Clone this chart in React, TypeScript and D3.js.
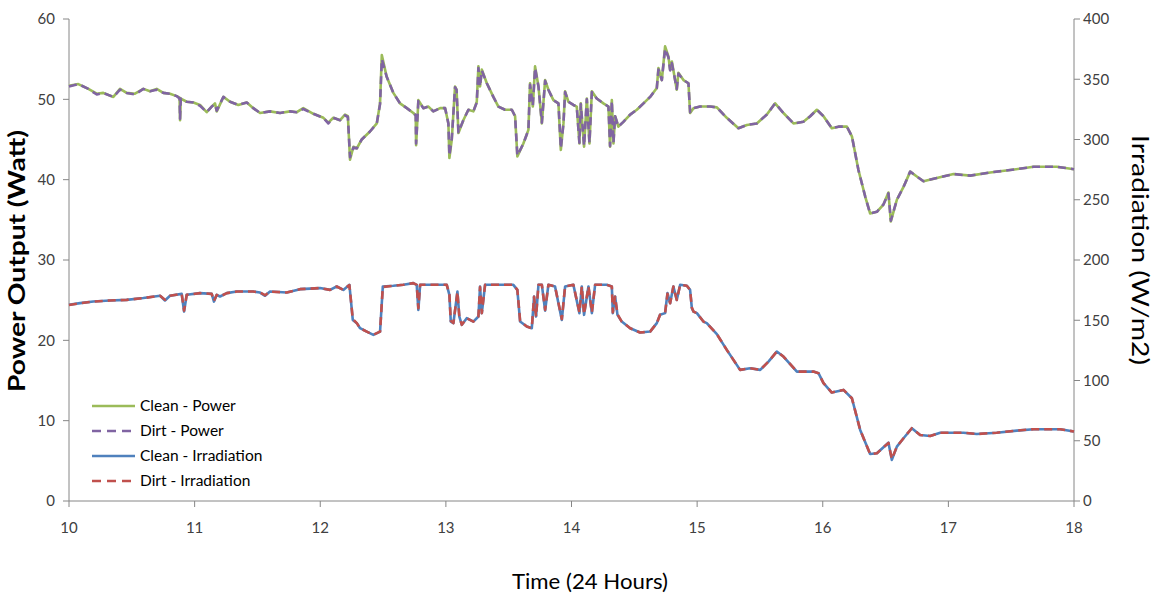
import React from "react";
import * as d3 from "d3";

const powerTimes = [
  10.000, 10.074, 10.154, 10.221, 10.273, 10.353, 10.406, 10.459, 10.525, 10.592,
  10.645, 10.698, 10.751, 10.804, 10.857, 10.880, 10.884, 10.890, 10.937, 10.990,
  11.043, 11.096, 11.136, 11.162, 11.176, 11.229, 11.282, 11.348, 11.415, 11.467,
  11.521, 11.600, 11.680, 11.760, 11.813, 11.865, 11.945, 12.025, 12.064, 12.104,
  12.158, 12.197, 12.220, 12.237, 12.264, 12.291, 12.330, 12.396, 12.450, 12.476,
  12.490, 12.529, 12.582, 12.635, 12.689, 12.741, 12.760, 12.763, 12.781, 12.821,
  12.861, 12.900, 12.954, 12.994, 13.020, 13.028, 13.047, 13.073, 13.085, 13.100,
  13.139, 13.179, 13.219, 13.246, 13.259, 13.272, 13.286, 13.326, 13.378, 13.418,
  13.471, 13.525, 13.551, 13.569, 13.617, 13.657, 13.670, 13.692, 13.710, 13.737,
  13.764, 13.790, 13.816, 13.856, 13.896, 13.915, 13.936, 13.949, 13.975, 14.015,
  14.042, 14.063, 14.074, 14.100, 14.122, 14.143, 14.162, 14.201, 14.254, 14.294,
  14.307, 14.321, 14.334, 14.347, 14.373, 14.413, 14.467, 14.520, 14.573, 14.626,
  14.679, 14.692, 14.719, 14.745, 14.772, 14.785, 14.799, 14.838, 14.851, 14.891,
  14.931, 14.944, 14.971, 15.024, 15.104, 15.157, 15.236, 15.329, 15.396, 15.475,
  15.555, 15.621, 15.687, 15.767, 15.846, 15.900, 15.953, 16.006, 16.072, 16.125,
  16.192, 16.232, 16.284, 16.338, 16.377, 16.431, 16.483, 16.523, 16.542, 16.590,
  16.643, 16.696, 16.749, 16.802, 16.908, 17.041, 17.174, 17.333, 17.492, 17.678,
  17.864, 18.000,
];

const cleanPower = [
  51.7, 51.9, 51.3, 50.7, 50.8, 50.3, 51.3, 50.8, 50.7, 51.3,
  51.0, 51.3, 50.8, 50.7, 50.4, 50.2, 47.4, 50.1, 49.7, 49.6,
  49.3, 48.4, 49.1, 49.5, 48.5, 50.3, 49.7, 49.3, 49.6, 48.9,
  48.3, 48.5, 48.3, 48.5, 48.4, 48.9, 48.2, 47.7, 47.1, 47.7,
  47.4, 48.1, 47.9, 42.5, 44.1, 43.9, 45.0, 46.0, 47.0, 49.5,
  55.5, 52.8, 50.8, 49.5, 48.9, 48.3, 48.0, 44.3, 49.9, 48.9,
  49.1, 48.5, 48.9, 48.9, 47.0, 42.7, 45.0, 51.6, 51.2, 45.8,
  47.4, 48.7, 48.5, 49.7, 54.1, 51.6, 53.7, 52.0, 50.3, 49.1,
  48.7, 48.7, 47.9, 42.9, 44.5, 46.2, 52.0, 49.1, 54.1, 51.6,
  47.0, 52.4, 51.2, 49.9, 49.5, 43.7, 47.0, 51.0, 49.7, 49.3,
  49.1, 44.5, 49.5, 44.1, 50.1, 44.5, 51.0, 50.1, 49.5, 49.1,
  44.1, 49.9, 44.5, 47.9, 46.6, 47.2, 48.1, 48.7, 49.5, 50.3,
  51.4, 53.9, 52.4, 56.6, 55.3, 53.7, 54.7, 51.2, 53.3, 52.4,
  52.0, 48.3, 48.9, 49.1, 49.1, 49.0, 47.7, 46.4, 46.8, 47.0,
  48.1, 49.5, 48.3, 47.0, 47.2, 47.9, 48.7, 47.9, 46.4, 46.6,
  46.6, 45.4, 41.2, 37.9, 35.8, 36.0, 36.9, 38.4, 34.8, 37.5,
  39.1, 41.0, 40.4, 39.8, 40.2, 40.7, 40.5, 40.9, 41.2, 41.6,
  41.6, 41.3,
];

const dirtPower = [
  51.6, 51.9, 51.3, 50.6, 50.8, 50.3, 51.2, 50.8, 50.6, 51.3,
  51.0, 51.2, 50.8, 50.7, 50.4, 50.1, 47.6, 50.1, 49.7, 49.6,
  49.2, 48.4, 49.1, 49.4, 48.6, 50.3, 49.7, 49.3, 49.6, 48.9,
  48.3, 48.5, 48.3, 48.5, 48.4, 48.8, 48.2, 47.7, 47.0, 47.7,
  47.4, 48.0, 47.8, 42.8, 44.0, 43.9, 45.0, 46.0, 47.0, 49.4,
  55.0, 52.8, 50.8, 49.5, 48.9, 48.3, 48.0, 44.5, 49.8, 48.9,
  49.1, 48.5, 48.9, 48.9, 47.0, 43.0, 45.1, 51.5, 51.2, 45.9,
  47.4, 48.7, 48.5, 49.6, 53.9, 51.6, 53.6, 52.0, 50.3, 49.1,
  48.7, 48.7, 47.9, 43.0, 44.5, 46.2, 51.8, 49.2, 53.9, 51.6,
  47.1, 52.3, 51.2, 49.9, 49.5, 43.9, 47.0, 50.9, 49.7, 49.3,
  49.1, 44.6, 49.4, 44.2, 50.0, 44.6, 50.9, 50.1, 49.5, 49.1,
  44.2, 49.8, 44.6, 47.9, 46.6, 47.2, 48.1, 48.7, 49.5, 50.3,
  51.4, 53.7, 52.4, 56.3, 55.2, 53.6, 54.5, 51.3, 53.2, 52.4,
  52.0, 48.4, 48.9, 49.1, 49.1, 49.0, 47.7, 46.4, 46.8, 47.0,
  48.1, 49.5, 48.3, 47.0, 47.2, 47.9, 48.7, 47.9, 46.4, 46.6,
  46.6, 45.4, 41.2, 37.9, 35.8, 36.0, 36.9, 38.3, 34.9, 37.5,
  39.1, 41.0, 40.4, 39.8, 40.2, 40.7, 40.5, 40.9, 41.2, 41.6,
  41.6, 41.3,
];

const irrTimes = [
  10.000, 10.088, 10.194, 10.326, 10.459, 10.592, 10.725, 10.764, 10.804, 10.897,
  10.916, 10.937, 11.043, 11.136, 11.154, 11.176, 11.202, 11.256, 11.335, 11.467,
  11.521, 11.561, 11.600, 11.733, 11.839, 11.998, 12.078, 12.131, 12.184, 12.232,
  12.259, 12.291, 12.317, 12.370, 12.423, 12.476, 12.498, 12.582, 12.662, 12.741,
  12.768, 12.781, 12.795, 12.900, 13.007, 13.028, 13.039, 13.060, 13.092, 13.107,
  13.127, 13.166, 13.219, 13.259, 13.272, 13.286, 13.312, 13.405, 13.537, 13.569,
  13.591, 13.644, 13.684, 13.702, 13.718, 13.737, 13.764, 13.790, 13.816, 13.869,
  13.923, 13.949, 14.015, 14.063, 14.082, 14.100, 14.135, 14.162, 14.188, 14.281,
  14.321, 14.329, 14.347, 14.366, 14.400, 14.467, 14.546, 14.626, 14.679, 14.705,
  14.745, 14.764, 14.785, 14.811, 14.838, 14.865, 14.918, 14.944, 14.958, 14.971,
  14.998, 15.050, 15.077, 15.157, 15.236, 15.342, 15.422, 15.502, 15.568, 15.634,
  15.687, 15.794, 15.926, 15.966, 16.006, 16.072, 16.165, 16.232, 16.298, 16.377,
  16.431, 16.523, 16.550, 16.590, 16.643, 16.709, 16.775, 16.855, 16.935, 17.120,
  17.226, 17.385, 17.545, 17.678, 17.890, 18.000,
];

const cleanIrr = [
  162.8, 164.2, 165.5, 166.4, 166.9, 168.4, 170.3, 166.4, 170.3, 171.9,
  157.2, 171.1, 172.5, 171.9, 165.5, 171.1, 169.7, 172.5, 173.8, 173.8,
  173.0, 170.3, 173.8, 173.0, 175.8, 176.7, 175.2, 178.0, 175.2, 179.4,
  150.3, 147.6, 143.4, 140.6, 137.9, 140.6, 178.0, 178.6, 179.4, 180.8,
  179.4, 158.6, 179.4, 179.4, 179.4, 171.1, 148.9, 147.6, 173.8, 153.1,
  146.2, 151.7, 148.9, 153.1, 178.0, 155.9, 179.4, 179.4, 179.4, 175.2,
  148.9, 144.8, 143.4, 169.7, 153.1, 179.4, 179.4, 158.0, 179.4, 178.0,
  150.3, 178.0, 179.4, 155.9, 178.0, 154.5, 178.0, 155.9, 179.4, 179.4,
  178.0, 155.9, 169.7, 154.5, 148.9, 143.4, 139.8, 140.6, 147.6, 154.5,
  155.9, 172.5, 164.2, 178.0, 166.9, 179.4, 178.6, 175.2, 160.0, 157.2,
  155.9, 148.9, 147.6, 138.5, 125.4, 108.8, 110.2, 108.8, 115.7, 124.0,
  119.9, 107.4, 107.4, 106.1, 97.8, 90.0, 92.2, 85.3, 59.0, 39.0,
  39.6, 48.4, 34.1, 45.1, 52.1, 60.4, 54.8, 54.0, 56.7, 56.7,
  55.6, 56.7, 58.4, 59.6, 59.6, 57.6,
];

const dirtIrr = [
  162.6, 164.2, 165.5, 166.4, 166.9, 168.4, 170.3, 167.0, 170.3, 171.9,
  158.0, 171.1, 172.5, 171.9, 166.0, 171.1, 169.7, 172.5, 173.8, 173.8,
  173.0, 170.8, 173.8, 173.0, 175.8, 176.7, 175.2, 178.0, 175.2, 179.2,
  151.0, 147.6, 143.4, 140.6, 137.9, 140.6, 177.6, 178.6, 179.4, 180.8,
  179.4, 160.0, 179.4, 179.4, 179.4, 171.5, 149.5, 147.6, 173.5, 153.1,
  146.2, 151.7, 148.9, 153.1, 177.6, 155.9, 179.4, 179.4, 179.4, 175.2,
  149.5, 144.8, 143.4, 169.4, 153.1, 179.4, 179.4, 158.6, 179.4, 178.0,
  151.0, 178.0, 179.4, 156.5, 178.0, 155.0, 178.0, 156.5, 179.4, 179.4,
  178.0, 156.5, 169.4, 155.0, 148.9, 143.4, 139.8, 140.6, 147.6, 154.5,
  155.9, 172.0, 164.2, 178.0, 166.9, 179.4, 178.6, 175.2, 160.5, 157.2,
  155.9, 148.9, 147.6, 138.5, 125.4, 108.8, 110.2, 108.8, 115.7, 124.0,
  119.9, 107.4, 107.4, 106.1, 97.8, 90.0, 92.2, 85.3, 59.0, 39.0,
  39.6, 48.2, 34.8, 45.1, 52.1, 60.4, 54.8, 54.0, 56.7, 56.7,
  55.6, 56.7, 58.4, 59.6, 59.6, 57.6,
];

const xTicks = [10, 11, 12, 13, 14, 15, 16, 17, 18];
const leftTicks = [0, 10, 20, 30, 40, 50, 60];
const rightTicks = [0, 50, 100, 150, 200, 250, 300, 350, 400];

const seriesNames = ["Clean - Power", "Dirt - Power", "Clean - Irradiation", "Dirt - Irradiation"];
const seriesColors = ["#9BBB59", "#8064A2", "#4F81BD", "#C0504D"];
const seriesDashed = [false, true, false, true];

const FONT = "Lato, 'Open Sans', sans-serif";
const AXIS = "#868686";
const TEXT = "#404040";

export default function App() {
  const L = 69, R = 1074, T = 19, B = 501;
  const x = d3.scaleLinear().domain([10, 18]).range([L, R]);
  const yL = d3.scaleLinear().domain([0, 60]).range([B, T]);
  const yR = d3.scaleLinear().domain([0, 400]).range([B, T]);

  const mk = (times: number[], vals: number[], y: d3.ScaleLinear<number, number>) =>
    d3.line<number>().x((_, i) => x(times[i])).y((v) => y(v))(vals) || "";

  const paths = [
    mk(powerTimes, cleanPower, yL),
    mk(powerTimes, dirtPower, yL),
    mk(irrTimes, cleanIrr, yR),
    mk(irrTimes, dirtIrr, yR),
  ];

  return (
    <svg width={1156} height={595} style={{ position: "absolute", left: 0, top: 0, background: "#fff" }} fontFamily={FONT}>
      <rect x={0} y={0} width={1156} height={595} fill="#fff" />
      {/* axes */}
      <line x1={L} y1={T} x2={L} y2={B} stroke={AXIS} strokeWidth={1} />
      <line x1={R} y1={T} x2={R} y2={B} stroke={AXIS} strokeWidth={1} />
      <line x1={L} y1={B} x2={R} y2={B} stroke={AXIS} strokeWidth={1} />
      {leftTicks.map((t) => (
        <g key={"l" + t}>
          <line x1={L - 6} x2={L} y1={yL(t)} y2={yL(t)} stroke={AXIS} />
          <text x={L - 14} y={yL(t)} dy="0.35em" textAnchor="end" fontSize={15} fill={TEXT}>{t}</text>
        </g>
      ))}
      {rightTicks.map((t) => (
        <g key={"r" + t}>
          <line x1={R} x2={R + 6} y1={yR(t)} y2={yR(t)} stroke={AXIS} />
          <text x={R + 9} y={yR(t)} dy="0.35em" textAnchor="start" fontSize={15} fill={TEXT}>{t}</text>
        </g>
      ))}
      {xTicks.map((t) => (
        <g key={"x" + t}>
          <line x1={x(t)} x2={x(t)} y1={B} y2={B + 6} stroke={AXIS} />
          <text x={x(t)} y={B + 32} textAnchor="middle" fontSize={15} fill={TEXT}>{t}</text>
        </g>
      ))}
      {/* axis titles */}
      <text transform={`translate(25,261) rotate(-90)`} textAnchor="middle" fontSize={23} fontWeight="bold" fill="#000"
        textLength={262} lengthAdjust="spacingAndGlyphs">Power Output (Watt)</text>
      <text transform={`translate(1132,250) rotate(90)`} textAnchor="middle" fontSize={23} fill="#000"
        textLength={230} lengthAdjust="spacingAndGlyphs">Irradiation (W/m2)</text>
      <text x={590} y={589} textAnchor="middle" fontSize={22} fill="#000"
        textLength={156} lengthAdjust="spacingAndGlyphs">Time (24 Hours)</text>
      {/* series */}
      {paths.map((d, i) => (
        <path key={i} d={d} fill="none" stroke={seriesColors[i]} strokeWidth={2.6}
          strokeDasharray={seriesDashed[i] ? "8,5" : undefined} strokeLinejoin="round" />
      ))}
      {/* legend */}
      {seriesNames.map((n, i) => {
        const yy = 406 + i * 25;
        return (
          <g key={n}>
            <line x1={92} x2={135} y1={yy} y2={yy} stroke={seriesColors[i]} strokeWidth={2.6}
              strokeDasharray={seriesDashed[i] ? "9,6" : undefined} />
            <text x={140} y={yy} dy="0.35em" fontSize={15.5} fill="#000">{n}</text>
          </g>
        );
      })}
    </svg>
  );
}
